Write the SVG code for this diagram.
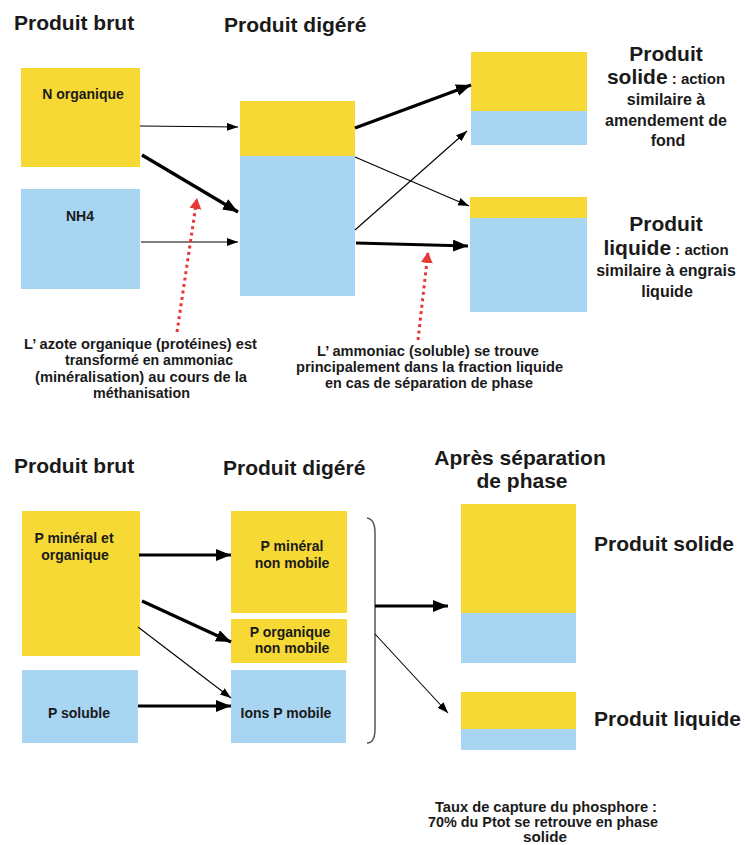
<svg xmlns="http://www.w3.org/2000/svg" width="745" height="845" viewBox="0 0 745 845">
  <style>
    text { font-family: "Liberation Sans", Arial, sans-serif; font-weight: bold; fill: #1a1a1a; }
    .title { font-size: 21px; }
    .lbl { font-size: 14px; }
    .side { font-size: 16px; }
    .note { font-size: 14px; }
    .foot { font-size: 14.5px; }
    .yel { fill: #F7D936; }
    .blu { fill: #A8D5F2; }
    .thin { stroke: #000; stroke-width: 1.1; fill: none; marker-end: url(#headThin); }
    .thick { stroke: #000; stroke-width: 3.2; fill: none; marker-end: url(#headThick); }
    .red { stroke: #E53935; stroke-width: 3; stroke-dasharray: 3 3.5; fill: none; marker-end: url(#headRed); }
  </style>
  <defs>
    <marker id="headThin" markerUnits="userSpaceOnUse" markerWidth="12" markerHeight="10" refX="11" refY="4" orient="auto">
      <path d="M0,0 L11,4 L0,8 z" fill="#000"/>
    </marker>
    <marker id="headThick" markerUnits="userSpaceOnUse" markerWidth="16" markerHeight="14" refX="15" refY="6" orient="auto">
      <path d="M0,0 L15,6 L0,12 z" fill="#000"/>
    </marker>
    <marker id="headRed" markerUnits="userSpaceOnUse" markerWidth="14" markerHeight="14" refX="11" refY="6" orient="auto">
      <path d="M0,0 L11,6 L0,12 z" fill="#E53935"/>
    </marker>
  </defs>

  <!-- ===== Nitrogen: titles ===== -->
  <text class="title" x="14" y="30">Produit brut</text>
  <text class="title" x="224" y="32">Produit digéré</text>

  <!-- raw product -->
  <g id="n-organique">
    <rect class="yel" x="21" y="68" width="119" height="99"/>
    <text class="lbl" x="83" y="99" text-anchor="middle">N organique</text>
  </g>
  <g id="nh4">
    <rect class="blu" x="21" y="189" width="119" height="100"/>
    <text class="lbl" x="80" y="221" text-anchor="middle">NH4</text>
  </g>

  <!-- digested product -->
  <g id="n-digere">
    <rect class="yel" x="240" y="101" width="115" height="55"/>
    <rect class="blu" x="240" y="156" width="115" height="140"/>
  </g>

  <!-- separated phases -->
  <g id="n-solide">
    <rect class="yel" x="471" y="52" width="116" height="59"/>
    <rect class="blu" x="471" y="111" width="116" height="34"/>
    <text class="title" x="666" y="61" text-anchor="middle">Produit</text>
    <text x="666" y="84" text-anchor="middle"><tspan font-size="21">solide</tspan><tspan font-size="15"> : action</tspan></text>
    <text class="side" x="666" y="105" text-anchor="middle">similaire à</text>
    <text class="side" x="666" y="126" text-anchor="middle">amendement de</text>
    <text class="side" x="668" y="146" text-anchor="middle">fond</text>
  </g>
  <g id="n-liquide">
    <rect class="yel" x="470" y="197" width="117" height="21"/>
    <rect class="blu" x="470" y="218" width="117" height="94"/>
    <text class="title" x="666" y="231" text-anchor="middle">Produit</text>
    <text x="666" y="255" text-anchor="middle"><tspan font-size="21">liquide</tspan><tspan font-size="15"> : action</tspan></text>
    <text class="side" x="666" y="276" text-anchor="middle">similaire à engrais</text>
    <text class="side" x="667" y="297" text-anchor="middle">liquide</text>
  </g>

  <!-- notes -->
  <g id="note-mineralisation">
    <text class="note" x="24" y="349" textLength="233" lengthAdjust="spacingAndGlyphs">L’ azote organique (protéines) est</text>
    <text class="note" x="65" y="365" textLength="168" lengthAdjust="spacingAndGlyphs">transformé en ammoniac</text>
    <text class="note" x="35" y="382" textLength="212" lengthAdjust="spacingAndGlyphs">(minéralisation) au cours de la</text>
    <text class="note" x="93" y="398" textLength="97" lengthAdjust="spacingAndGlyphs">méthanisation</text>
  </g>
  <g id="note-ammoniac">
    <text class="note" x="317" y="356" textLength="222" lengthAdjust="spacingAndGlyphs">L’ ammoniac (soluble) se trouve</text>
    <text class="note" x="296" y="372" textLength="267" lengthAdjust="spacingAndGlyphs">principalement dans la fraction liquide</text>
    <text class="note" x="325" y="388" textLength="208" lengthAdjust="spacingAndGlyphs">en cas de séparation de phase</text>
  </g>

  <!-- ===== Phosphorus: titles ===== -->
  <text class="title" x="14" y="473">Produit brut</text>
  <text class="title" x="223" y="475">Produit digéré</text>
  <text class="title" x="520" y="465" text-anchor="middle">Après séparation</text>
  <text class="title" x="522" y="488" text-anchor="middle">de phase</text>

  <g id="p-mineral-organique">
    <rect class="yel" x="22" y="511" width="118" height="145"/>
    <text class="lbl" x="74" y="543" text-anchor="middle">P minéral et</text>
    <text class="lbl" x="75" y="560" text-anchor="middle">organique</text>
  </g>
  <g id="p-soluble">
    <rect class="blu" x="22" y="670" width="116" height="73"/>
    <text class="lbl" x="79" y="718" text-anchor="middle">P soluble</text>
  </g>
  <g id="p-mineral-non-mobile">
    <rect class="yel" x="231" y="511" width="116" height="102"/>
    <text class="lbl" x="292" y="551" text-anchor="middle">P minéral</text>
    <text class="lbl" x="292" y="568" text-anchor="middle">non mobile</text>
  </g>
  <g id="p-organique-non-mobile">
    <rect class="yel" x="231" y="619" width="116" height="44"/>
    <text class="lbl" x="290" y="637" text-anchor="middle">P organique</text>
    <text class="lbl" x="292" y="653" text-anchor="middle">non mobile</text>
  </g>
  <g id="ions-p-mobile">
    <rect class="blu" x="231" y="670" width="115" height="73"/>
    <text class="lbl" x="286" y="718" text-anchor="middle">Ions P mobile</text>
  </g>

  <g id="p-solide">
    <rect class="yel" x="461" y="504" width="115" height="109"/>
    <rect class="blu" x="461" y="613" width="115" height="50"/>
    <text class="title" x="594" y="551">Produit solide</text>
  </g>
  <g id="p-liquide">
    <rect class="yel" x="461" y="692" width="115" height="37"/>
    <rect class="blu" x="461" y="729" width="115" height="21"/>
    <text class="title" x="594" y="726">Produit liquide</text>
  </g>

  <g id="note-capture">
    <text class="foot" x="435" y="812" textLength="222" lengthAdjust="spacingAndGlyphs">Taux de capture du phosphore :</text>
    <text class="foot" x="428" y="827" textLength="230" lengthAdjust="spacingAndGlyphs">70% du Ptot se retrouve en phase</text>
    <text class="foot" x="523" y="842" textLength="44" lengthAdjust="spacingAndGlyphs">solide</text>
  </g>

  <!-- ===== Connectors ===== -->
  <g id="connectors">
    <!-- nitrogen: raw to digested -->
    <path class="thin" d="M140,126 L238,127"/>
    <path class="thick" d="M142,155 L238,212"/>
    <path class="thin" d="M141,242 L238,242"/>
    <!-- nitrogen: digested to phases -->
    <path class="thick" d="M355,128 L471,85"/>
    <path class="thin" d="M355,157 L469,206"/>
    <path class="thin" d="M355,230 L467,131"/>
    <path class="thick" d="M356,243 L468,246"/>
    <!-- note pointers -->
    <path class="red" d="M177,332 L197,198"/>
    <path class="red" d="M418,340 L428,252"/>
    <!-- phosphorus: raw to digested -->
    <path class="thick" d="M139,555 L231,555"/>
    <path class="thick" d="M142,601 L231,642"/>
    <path class="thin" d="M138,627 L231,698"/>
    <path class="thick" d="M138,706 L231,706"/>
    <!-- brace grouping digested fractions -->
    <path d="M367,518 Q375,519 375,533 L375,729 Q375,743 367,743" fill="none" stroke="#555" stroke-width="1.5"/>
    <path class="thick" d="M375,606 L448,606"/>
    <path class="thin" d="M375,634 L448,713"/>
  </g>
</svg>
